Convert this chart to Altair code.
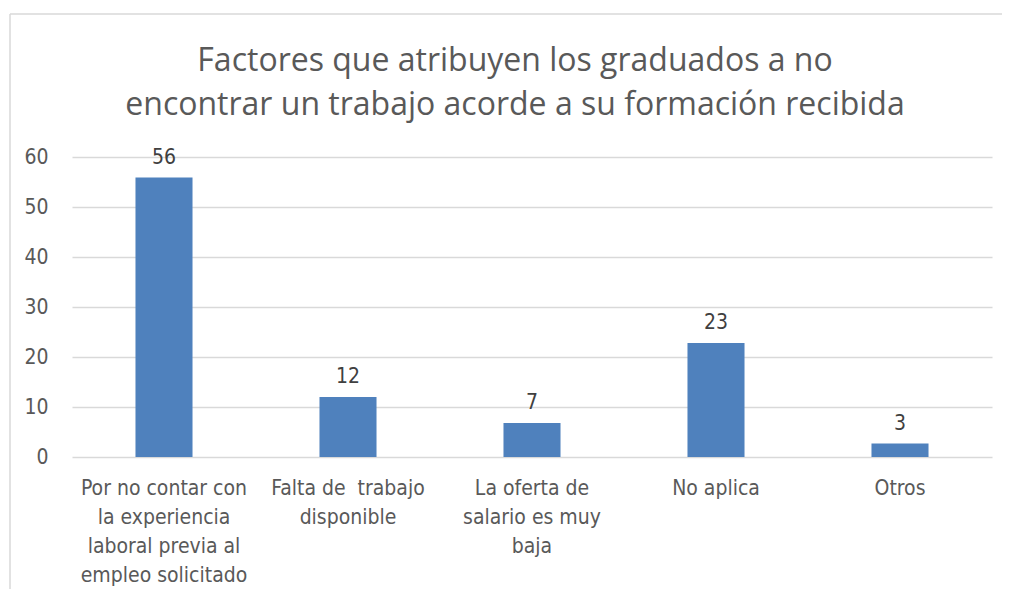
import altair as alt
import pandas as pd

categories = [
    "Por no contar con\nla experiencia\nlaboral previa al\nempleo solicitado",
    "Falta de\u00a0 trabajo\ndisponible",
    "La oferta de\nsalario es muy\nbaja",
    "No aplica",
    "Otros",
]
values = [55.9, 12.0, 6.8, 22.8, 2.7]
y_ticks = [0, 10, 20, 30, 40, 50, 60]

df = pd.DataFrame({"cat": categories, "val": values})

LABEL_FONT = "Liberation Sans Narrow, DejaVu Sans Condensed, Roboto, sans-serif"

base = alt.Chart(df)

bars = base.mark_bar(color="#4f81bd").encode(
    x=alt.X(
        "cat:N",
        sort=categories,
        title=None,
        scale=alt.Scale(paddingInner=0.69, paddingOuter=0.345),
        axis=alt.Axis(
            labelExpr="split(datum.label, '\\n')",
            labelAngle=0,
            labelFont=LABEL_FONT,
            labelFontSize=21,
            labelColor="#595959",
            labelLineHeight=29,
            labelPadding=20,
            labelBaseline="top",
            domain=False,
            ticks=False,
            grid=False,
        ),
    ),
    y=alt.Y(
        "val:Q",
        title=None,
        scale=alt.Scale(domain=[0, 60], nice=False),
        axis=alt.Axis(
            values=y_ticks,
            labelFont=LABEL_FONT,
            labelFontSize=21,
            labelColor="#595959",
            labelPadding=24,
            domain=False,
            ticks=False,
            gridColor="#d9d9d9",
            gridWidth=1.5,
        ),
    ),
)

labels = base.mark_text(
    font=LABEL_FONT, fontSize=21, color="#404040", baseline="alphabetic", dy=-14
).encode(
    x=alt.X("cat:N", sort=categories),
    y="val:Q",
    text=alt.Text("val:Q", format=".0f"),
)

frame_data = alt.Data(values=[{"k": 1}])
left_border = alt.Chart(frame_data).mark_rule(color="#d9d9d9", strokeWidth=1.5).encode(
    x=alt.value(-62), y=alt.value(-143), y2=alt.value(460)
)
top_border = alt.Chart(frame_data).mark_rule(color="#d9d9d9", strokeWidth=1.5).encode(
    x=alt.value(-62), x2=alt.value(950), y=alt.value(-143)
)

chart = (
    alt.layer(bars, labels, left_border, top_border)
    .properties(
        width=920,
        height=300,
        autosize=alt.AutoSizeParams(type="none"),
        padding={"left": 64, "top": 149, "right": 10, "bottom": 132},
        title=alt.TitleParams(
            text=[
                "Factores que atribuyen los graduados a no",
                "encontrar un trabajo acorde a su formación recibida",
            ],
            font="Open Sans",
            fontSize=32,
            fontWeight="normal",
            color="#595959",
            lineHeight=44,
            anchor="middle",
            dx=-17,
            dy=143,
            offset=34,
        ),
    )
    .configure_view(stroke=None)
)

chart.save("out.html", embed_options={"renderer": "svg", "actions": False})
